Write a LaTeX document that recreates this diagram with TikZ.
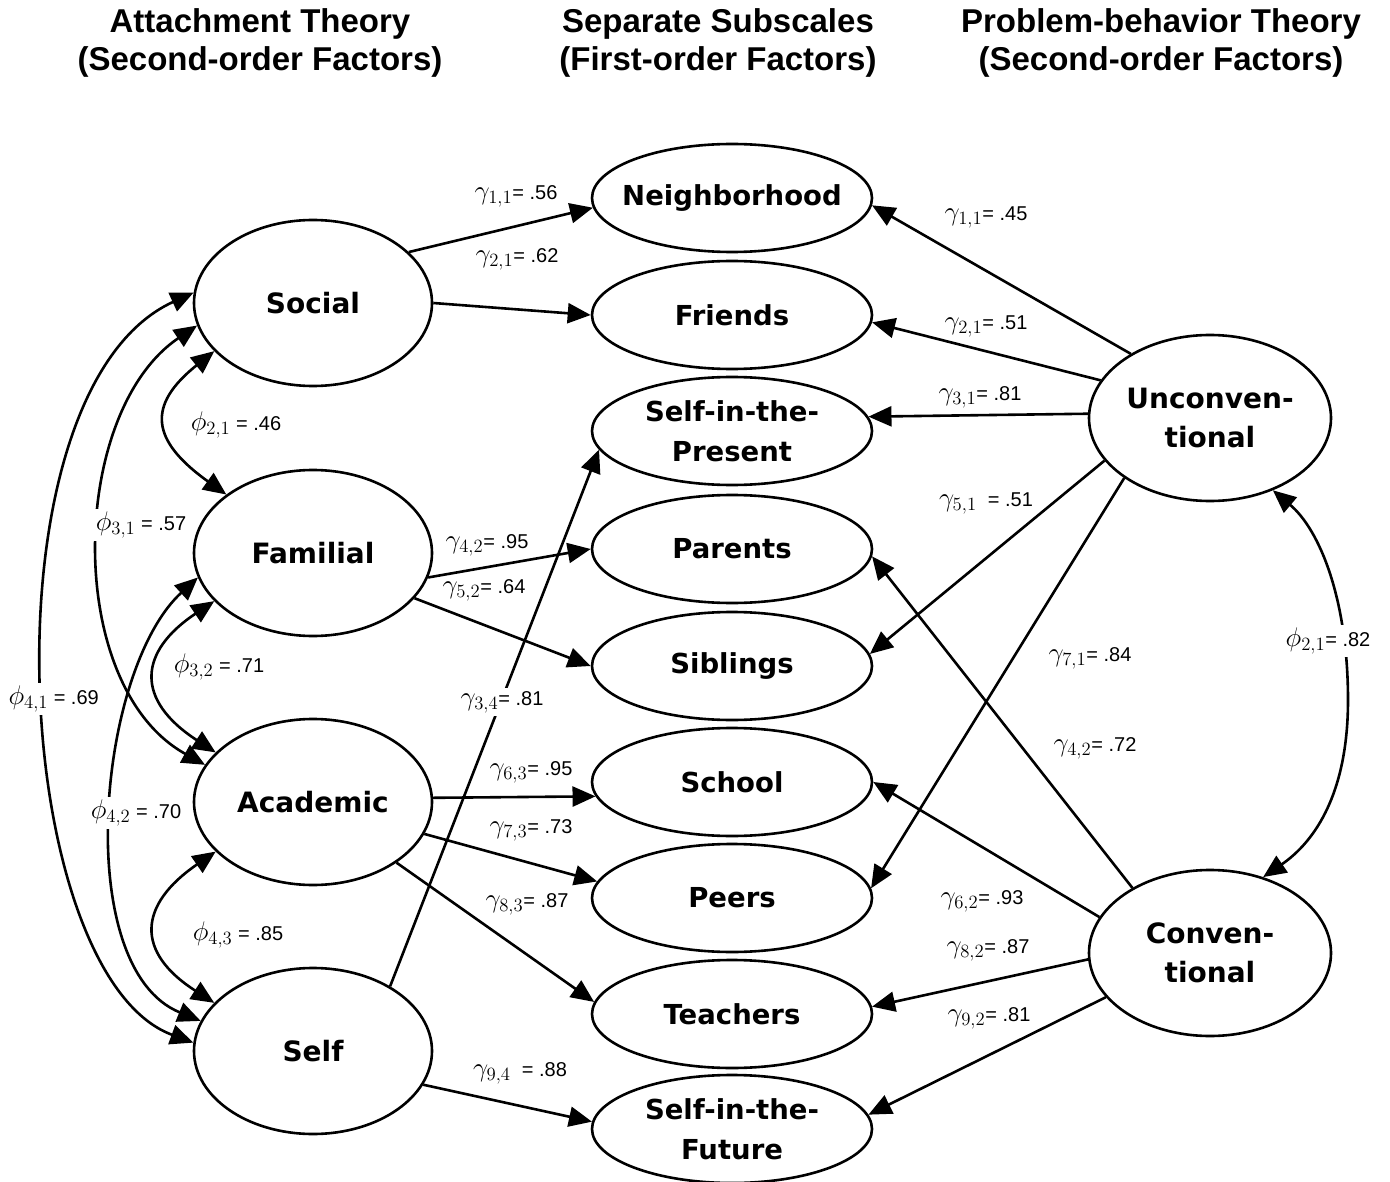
\documentclass[tikz,border=0pt]{standalone}
\usepackage{graphicx}
\usepackage{fontspec}
\setmainfont{Liberation Sans}
\newfontfamily\nodefont{DejaVu Sans}
\usetikzlibrary{arrows.meta,shapes.geometric}
\newcommand{\gco}[1]{\scalebox{1.3}{$\gamma_{#1}$}}
\newcommand{\pco}[1]{\scalebox{1.3}{$\phi_{#1}$}}
\tikzset{
  lat/.style={ellipse,draw,line width=2.6pt,minimum width=238pt,minimum height=166pt,inner sep=0pt,align=center,
    font=\nodefont\bfseries\fontsize{28}{39}\selectfont},
  latr/.style={lat,minimum width=242pt},
  subs/.style={ellipse,draw,line width=2.6pt,minimum width=280pt,minimum height=108pt,inner sep=0pt,align=center,
    font=\nodefont\bfseries\fontsize{27.5}{40}\selectfont},
  ttl/.style={align=center,font=\bfseries\fontsize{33}{38}\selectfont,inner sep=0pt},
  lab/.style={font=\fontsize{20}{24}\selectfont,inner sep=1.5pt},
  labw/.style={lab,fill=white,inner sep=3pt},
  arr/.style={-{Triangle[length=23pt,width=20pt]},line width=2.6pt},
  dbl/.style={{Triangle[length=23pt,width=20pt]}-{Triangle[length=23pt,width=20pt]},line width=2.6pt},
}
\begin{document}
\begin{tikzpicture}[x=1pt,y=-1pt]
\useasboundingbox (0,0) rectangle (1390,1182);
\fill[white] (0,0) rectangle (1390,1182);
% titles
\node[ttl] (t1) at (260,43) {Attachment Theory\\(Second-order Factors)};
\node[ttl] (t2) at (718,43) {Separate Subscales\\(First-order Factors)};
\node[ttl] (t3) at (1161,43) {Problem-behavior Theory\\(Second-order Factors)};
% left latent factors
\node[lat] (soc) at (313,303) {Social};
\node[lat] (fam) at (313,553) {Familial};
\node[lat] (aca) at (313,802) {Academic};
\node[lat] (slf) at (313,1051) {Self};
% subscales
\node[subs] (nbh) at (732,198) {\makebox[0pt]{Neighborhood}};
\node[subs] (fri) at (732,315) {Friends};
\node[subs] (sip) at (732,431) {Self-in-the-\\Present};
\node[subs] (par) at (732,549) {Parents};
\node[subs] (sib) at (732,666) {Siblings};
\node[subs] (sch) at (732,782) {School};
\node[subs] (pee) at (732,898) {Peers};
\node[subs] (tea) at (732,1014) {Teachers};
\node[subs] (sif) at (732,1129) {Self-in-the-\\Future};
% right latent factors
\node[latr] (unc) at (1210,418) {Unconven-\\tional};
\node[latr] (con) at (1210,953) {Conven-\\tional};
% left paths
\draw[arr] (soc.28.5) -- (nbh.184.7);
\draw[arr] (soc.0) -- (fri.180);
\draw[arr] (fam.-12.3) -- (par.180);
\draw[arr] (fam.-24.7) -- (sib.180);
\draw[arr] (slf.40.2) -- (sip.188.8);
\draw[arr] (aca.2) -- (sch.186);
\draw[arr] (aca.-16.4) -- (pee.173.8);
\draw[arr] (aca.-36.5) -- (tea.175.5);
\draw[arr] (slf.-17.8) -- (sif.177);
% right paths
\draw[arr] (unc.141.3) -- (nbh.-3.7);
\draw[arr] (unc.161.5) -- (fri.-3.2);
\draw[arr] (unc.178.6) -- (sip.6.6);
\draw[arr] (unc.202) -- (sib.5.2);
\draw[arr] (unc.215.9) -- (pee.4.4);
\draw[arr] (con.140.9) -- (par.-3.2);
\draw[arr] (con.162.3) -- (sch.0.8);
\draw[arr] (con.183.3) -- (tea.3.7);
\draw[arr] (con.203.8) -- (sif.6.3);
% correlations left
\draw[dbl] (soc.206) .. controls (147,405) and (150,440) .. (fam.146);
\draw[dbl] (soc.191.5) .. controls (69,412) and (63,686) .. (aca.161.1);
\draw[dbl] (soc.175) .. controls (-20,390) and (10,975) .. (slf.176.5);
\draw[dbl] (fam.192) .. controls (97,670) and (71,968) .. (slf.165);
\draw[dbl] (fam.206) .. controls (138,652) and (135,700) .. (aca.153.2);
\draw[dbl] (aca.207.8) .. controls (138,905) and (135,952) .. (slf.154.5);
% correlation right
\coordinate (rmid) at (1348,700);
\draw[dbl] (unc.-49.9) .. controls (1320,530) and (1348,600) .. (rmid) .. controls (1348,800) and (1310,845) .. (con.55.3);
% labels left
\node[lab] (g11l) at (516,196) {\gco{1,1}= .56};
\node[lab] (g21l) at (517,259) {\gco{2,1}= .62};
\node[lab] (g42l) at (487,545) {\gco{4,2}= .95};
\node[lab] (g52l) at (484,590) {\gco{5,2}= .64};
\node[labw] (g34) at (502,702) {\gco{3,4}= .81};
\node[lab] (g63) at (531,772) {\gco{6,3}= .95};
\node[lab] (g73) at (531,830) {\gco{7,3}= .73};
\node[lab] (g83) at (527,904) {\gco{8,3}= .87};
\node[lab] (g94) at (520,1073) {\gco{9,4}\ \ = .88};
% labels right
\node[lab] (g11r) at (986,217) {\gco{1,1}= .45};
\node[lab] (g21r) at (986,326) {\gco{2,1}= .51};
\node[lab] (g31r) at (980,397) {\gco{3,1}= .81};
\node[lab] (g51r) at (986,503) {\gco{5,1}\ \ = .51};
\node[lab] (g71r) at (1090,658) {\gco{7,1}= .84};
\node[lab] (g42r) at (1095,748) {\gco{4,2}= .72};
\node[lab] (g62r) at (982,901) {\gco{6,2}= .93};
\node[lab] (g82r) at (988,950) {\gco{8,2}= .87};
\node[lab] (g92r) at (989,1018) {\gco{9,2}= .81};
% phi labels
\node[lab] (p21) at (236,425) {\pco{2,1} = .46};
\node[labw] (p31) at (141,525) {\pco{3,1} = .57};
\node[lab] (p32) at (219,667) {\pco{3,2} = .71};
\node[labw] (p42) at (136,813) {\pco{4,2} = .70};
\node[lab] (p43) at (238,935) {\pco{4,3} = .85};
\node[labw,anchor=east] (p41) at (102,699) {\pco{4,1} = .69};
\node[labw] (pr) at (1328,641) {\pco{2,1}= .82};
\end{tikzpicture}
\end{document}
